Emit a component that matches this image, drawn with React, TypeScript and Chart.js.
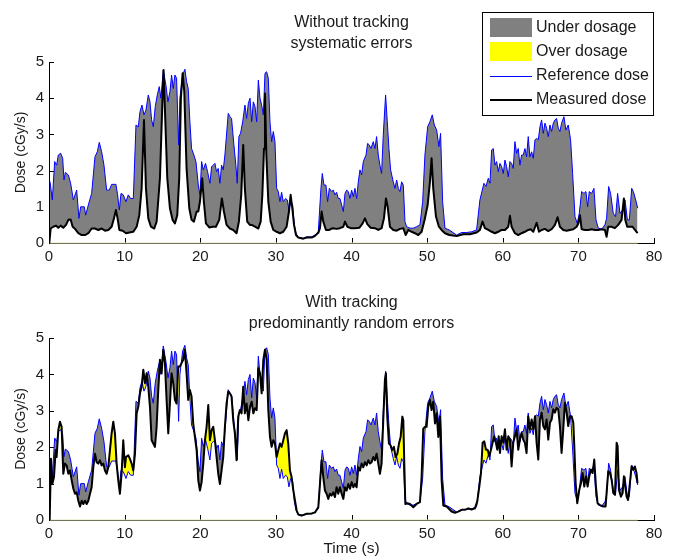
import React, { useEffect, useRef } from 'react';
import { Chart, registerables } from 'chart.js';

Chart.register(...registerables);

const FONT = '"Liberation Sans", Arial, Helvetica, sans-serif';

// Reference dose [time s, dose cGy/s] (same in both panels)
const referenceDose: number[][] = [
  [0.13,1.7],[0.44,1.19],[0.75,2.25],[1.01,2.15],[1.23,2.43],[1.54,2.48],[1.81,2.34],[1.98,1.74],[2.16,1.95],[2.56,1.88],
  [2.86,1.65],[3.22,1.19],[3.66,1.46],[3.96,0.68],[4.19,1.0],[4.67,1.0],[4.85,0.77],[5.2,1.05],[5.64,1.37],[6.08,2.38],
  [6.39,2.52],[6.65,2.78],[6.96,2.52],[7.27,2.15],[7.62,1.46],[7.97,1.46],[8.28,1.62],[8.85,1.62],[9.07,1.33],[9.3,0.91],
  [9.52,1.37],[9.82,1.33],[10.18,1.14],[10.48,1.33],[10.79,1.23],[11.15,1.23],[11.5,3.26],[11.81,3.21],[12.03,3.63],[12.29,3.81],
  [12.56,3.54],[12.82,3.67],[13.13,4.09],[13.35,3.9],[13.57,3.4],[13.79,3.21],[14.05,3.77],[14.32,4.09],[14.58,4.32],[14.8,4.0],
  [15.11,4.78],[15.46,4.36],[15.73,3.9],[15.99,4.18],[16.21,4.64],[16.43,4.27],[16.65,4.64],[16.87,4.55],[17.14,2.71],[17.31,4.0],
  [17.67,4.64],[17.97,4.8],[18.19,4.46],[18.41,4.27],[18.63,3.35],[18.85,2.61],[19.16,2.43],[19.43,2.25],[19.74,1.6],[19.96,1.33],
  [20.18,2.25],[20.4,2.02],[20.7,2.2],[20.97,1.97],[21.28,1.65],[21.5,2.11],[21.72,2.15],[21.94,2.2],[22.16,1.97],[22.38,2.06],
  [22.6,1.65],[22.82,2.15],[23.04,2.02],[23.26,2.43],[23.7,3.58],[23.92,3.49],[24.14,3.44],[24.45,2.71],[24.71,2.15],[24.89,1.65],
  [25.11,2.94],[25.33,3.03],[25.61,3.35],[25.91,3.81],[26.13,3.44],[26.36,3.86],[26.58,4.0],[26.8,3.35],[27.02,3.9],[27.24,3.77],
  [27.46,3.35],[27.68,4.5],[27.9,4.0],[28.12,3.81],[28.34,3.54],[28.56,4.69],[28.78,4.73],[29.0,4.55],[29.22,3.35],[29.44,2.8],
  [29.66,3.08],[29.88,2.8],[30.1,1.51],[30.32,1.42],[30.54,1.14],[30.76,1.4],[30.98,1.14],[31.29,1.23],[31.51,1.19],[31.73,0.91],
  [31.95,1.14],[32.22,1.05],[32.44,0.5],[32.66,0.27],[32.97,0.15],[33.63,0.13],[34.07,0.17],[34.73,0.17],[35.18,0.22],[35.61,0.31],
  [35.96,1.51],[36.14,1.92],[36.36,1.6],[36.62,1.6],[36.84,1.14],[37.07,1.51],[37.37,1.42],[37.59,1.46],[37.81,1.33],[38.03,1.4],
  [38.25,1.23],[38.47,1.23],[38.7,1.05],[38.92,0.87],[39.14,1.37],[39.36,1.46],[39.58,1.42],[39.8,1.23],[40.02,1.46],[40.24,1.28],
  [40.46,1.51],[40.68,1.23],[40.9,1.69],[41.12,2.02],[41.34,1.88],[41.56,2.25],[41.92,2.43],[42.13,2.75],[42.35,2.71],[42.57,2.61],
  [42.88,2.8],[43.1,2.61],[43.32,2.94],[43.54,2.43],[43.76,2.15],[43.98,1.92],[44.2,2.98],[44.51,4.09],[44.73,3.35],[44.95,2.61],
  [45.17,2.02],[45.52,1.69],[45.75,1.51],[45.97,1.74],[46.19,1.51],[46.41,1.42],[46.63,1.69],[46.85,1.6],[47.07,0.59],[47.29,0.45],
  [47.73,0.41],[48.17,0.41],[48.61,0.45],[49.05,0.5],[49.41,1.14],[49.71,2.43],[50.07,3.21],[50.37,3.35],[50.68,3.54],[50.95,3.26],
  [51.26,3.12],[51.56,2.66],[51.78,3.03],[52.05,1.14],[52.36,0.41],[52.93,0.36],[53.9,0.22],[54.56,0.29],[55.22,0.29],[55.88,0.31],
  [56.54,0.36],[56.98,1.19],[57.29,1.46],[57.51,1.65],[57.78,1.56],[58.09,1.79],[58.31,1.65],[58.53,2.57],[58.75,2.61],[58.97,2.15],
  [59.19,2.25],[59.41,1.97],[59.63,2.2],[59.85,2.11],[60.07,1.92],[60.29,2.29],[60.51,2.11],[60.73,1.83],[60.95,2.25],[61.17,2.2],
  [61.39,2.06],[61.61,2.8],[61.83,2.48],[62.05,2.61],[62.27,2.15],[62.49,2.43],[62.71,2.43],[62.93,2.61],[63.15,2.38],[63.37,2.94],
  [63.59,2.38],[63.82,2.52],[64.04,2.34],[64.26,2.85],[64.48,2.89],[64.7,2.85],[64.92,3.21],[65.14,3.4],[65.36,3.03],[65.58,3.31],
  [65.8,3.17],[66.02,2.94],[66.24,3.26],[66.46,3.08],[66.68,3.31],[66.9,3.4],[67.12,3.44],[67.34,3.17],[67.56,3.08],[67.78,3.31],
  [68.09,3.49],[68.35,3.12],[68.66,3.26],[68.97,2.85],[69.24,1.92],[69.55,0.73],[69.85,0.54],[70.12,0.82],[70.43,1.42],[70.74,1.37],
  [71.0,1.42],[71.22,1.0],[71.44,1.42],[71.75,1.37],[72.06,1.51],[72.33,0.64],[72.63,0.41],[73.07,0.38],[73.51,0.5],[73.73,0.68],
  [74.0,1.56],[74.26,1.37],[74.61,0.82],[74.92,0.73],[75.19,1.37],[75.5,0.82],[75.85,0.91],[76.17,1.19],[76.48,0.64],[76.74,0.64],
  [77.05,1.51],[77.27,1.42],[77.58,1.19],[77.85,0.96],
];

// Measured dose without tracking
const measuredNoTracking: number[][] = [
  [0.04,0.0],[0.22,0.4],[0.57,0.45],[0.93,0.48],[1.23,0.42],[1.54,0.48],[1.89,0.42],[2.25,0.5],[2.56,0.64],[2.86,0.65],
  [3.13,0.45],[3.44,0.39],[3.88,0.27],[4.32,0.22],[4.76,0.22],[5.2,0.27],[5.64,0.4],[6.08,0.4],[6.52,0.36],[6.96,0.4],
  [7.4,0.34],[7.84,0.36],[8.28,0.45],[8.59,0.68],[8.85,0.91],[9.07,0.68],[9.3,0.36],[9.74,0.34],[10.18,0.27],[10.62,0.29],
  [11.15,0.31],[11.59,0.45],[11.94,0.77],[12.25,1.51],[12.56,3.4],[12.82,1.51],[13.13,0.68],[13.48,0.45],[13.92,0.4],[14.23,0.59],
  [14.67,1.79],[14.98,3.81],[15.15,4.78],[15.37,3.44],[15.64,1.79],[15.99,0.96],[16.34,0.64],[16.65,0.54],[16.96,0.77],[17.22,1.79],
  [17.44,4.0],[17.67,4.69],[17.89,4.18],[18.19,2.06],[18.55,0.96],[18.85,0.64],[19.16,0.59],[19.52,0.87],[19.74,0.87],[19.96,1.14],
  [20.26,1.79],[20.48,1.14],[20.75,0.54],[21.19,0.43],[21.63,0.45],[22.07,0.45],[22.51,0.64],[22.86,1.23],[23.13,0.87],[23.48,0.5],
  [23.92,0.4],[24.36,0.36],[24.8,0.27],[25.11,0.59],[25.42,1.33],[25.68,2.71],[25.9,1.51],[26.21,0.59],[26.56,0.5],[26.8,0.5],
  [27.24,0.45],[27.68,0.4],[27.99,0.59],[28.21,1.33],[28.43,2.61],[28.56,4.13],[28.74,2.43],[29.0,1.14],[29.31,0.59],[29.66,0.36],
  [30.1,0.31],[30.54,0.27],[30.98,0.31],[31.42,0.45],[31.73,0.87],[31.95,1.33],[32.17,0.96],[32.4,0.5],[32.66,0.22],[32.97,0.15],
  [33.63,0.12],[34.07,0.15],[34.73,0.15],[35.18,0.2],[35.61,0.28],[35.83,0.41],[36.05,0.87],[36.27,0.59],[36.62,0.36],[37.07,0.36],
  [37.5,0.41],[38.03,0.39],[38.47,0.41],[38.92,0.45],[39.14,0.59],[39.45,0.45],[39.89,0.41],[40.46,0.41],[41.03,0.42],[41.47,0.54],
  [41.78,0.68],[42.09,0.52],[42.53,0.42],[43.1,0.41],[43.54,0.36],[43.98,0.41],[44.29,0.68],[44.56,1.23],[44.78,1.0],[45.08,0.45],
  [45.52,0.36],[45.97,0.34],[46.41,0.39],[46.85,0.41],[47.16,0.22],[47.51,0.36],[47.95,0.31],[48.39,0.27],[48.83,0.22],[49.27,0.31],
  [49.71,0.68],[50.07,1.05],[50.37,1.69],[50.59,2.34],[50.81,1.51],[51.17,0.73],[51.56,0.45],[51.91,0.36],[52.36,0.27],[52.93,0.22],
  [53.9,0.19],[54.78,0.24],[55.66,0.24],[56.54,0.29],[56.98,0.36],[57.33,0.59],[57.64,0.41],[58.09,0.36],[58.53,0.31],[58.97,0.27],
  [59.41,0.31],[59.85,0.36],[60.29,0.36],[60.73,0.45],[60.95,0.75],[61.17,0.45],[61.61,0.27],[62.05,0.22],[62.49,0.27],[62.93,0.31],
  [63.37,0.36],[63.68,0.38],[64.04,0.31],[64.48,0.56],[64.79,0.31],[65.14,0.36],[65.58,0.39],[66.02,0.33],[66.46,0.38],[66.9,0.5],
  [67.25,0.71],[67.56,0.45],[68.0,0.36],[68.45,0.34],[68.88,0.36],[69.33,0.38],[69.77,0.45],[69.99,0.54],[70.21,0.77],[70.43,0.38],
  [70.87,0.36],[71.31,0.36],[71.75,0.38],[72.19,0.36],[72.63,0.36],[73.07,0.38],[73.51,0.36],[73.73,0.17],[73.95,0.45],[74.39,0.45],
  [74.83,0.41],[75.27,0.5],[75.71,0.64],[76.02,1.23],[76.2,0.64],[76.46,0.45],[76.81,0.45],[77.17,0.45],[77.48,0.36],[77.83,0.27],
];

// Measured dose with tracking
const measuredWithTracking: number[][] = [
  [0.09,0.0],[0.26,1.68],[0.44,0.99],[0.66,1.18],[0.88,1.92],[1.01,1.73],[1.23,2.47],[1.45,2.7],[1.67,2.56],[1.89,1.27],
  [2.11,1.55],[2.33,1.5],[2.56,1.27],[2.78,1.36],[3.0,1.09],[3.22,0.86],[3.44,0.72],[3.66,0.76],[3.88,0.53],[4.1,0.37],
  [4.32,0.53],[4.54,0.44],[4.76,0.53],[4.98,0.44],[5.2,0.53],[5.42,0.72],[5.64,0.9],[5.86,1.45],[6.08,1.82],[6.3,1.59],
  [6.52,1.55],[6.74,1.64],[6.96,1.5],[7.18,1.55],[7.4,1.36],[7.62,1.27],[7.84,1.45],[8.06,1.92],[8.28,2.38],[8.5,2.7],
  [8.72,2.38],[8.94,1.55],[9.16,1.09],[9.38,0.72],[9.6,1.27],[9.82,2.19],[10.04,1.45],[10.18,1.73],[10.48,1.78],[10.7,1.68],
  [10.93,1.55],[11.15,1.36],[11.37,1.82],[11.59,2.93],[11.81,3.11],[12.03,3.48],[12.25,3.66],[12.47,4.13],[12.69,3.76],[12.91,4.03],
  [13.13,3.66],[13.35,3.11],[13.57,2.19],[13.79,2.1],[14.01,2.01],[14.23,2.56],[14.45,3.57],[14.67,4.4],[14.89,4.03],[15.11,4.68],
  [15.33,4.31],[15.55,3.3],[15.77,2.38],[15.99,3.2],[16.21,4.03],[16.43,3.76],[16.65,3.3],[16.87,3.2],[17.09,4.22],[17.31,4.22],
  [17.53,4.31],[17.75,4.4],[17.97,4.68],[18.19,4.03],[18.41,3.3],[18.63,3.57],[18.85,3.39],[19.07,2.65],[19.3,2.28],[19.52,1.92],
  [19.74,1.09],[19.96,0.81],[20.18,1.04],[20.4,1.55],[20.62,2.19],[20.84,2.56],[21.06,3.16],[21.28,2.19],[21.5,2.47],[21.72,2.56],
  [21.94,2.19],[22.16,1.73],[22.38,1.27],[22.6,0.99],[22.82,1.36],[23.04,1.73],[23.26,2.56],[23.48,3.2],[23.7,3.53],[23.92,3.48],
  [24.14,3.39],[24.36,2.74],[24.58,2.38],[24.8,1.64],[25.02,2.84],[25.24,3.02],[25.46,2.93],[25.68,3.66],[25.9,2.93],[26.13,3.2],
  [26.36,2.74],[26.58,3.11],[26.8,3.25],[27.02,2.93],[27.24,3.07],[27.46,3.02],[27.68,4.17],[27.9,4.03],[28.12,3.48],[28.34,4.4],
  [28.56,4.68],[28.78,4.4],[29.0,3.02],[29.22,2.28],[29.44,2.01],[29.66,2.19],[29.88,2.1],[30.1,1.73],[30.32,1.92],[30.54,2.1],
  [30.76,2.01],[30.98,2.19],[31.2,2.38],[31.42,2.47],[31.64,2.1],[31.86,1.36],[32.08,1.18],[32.31,0.81],[32.53,0.53],[32.75,0.26],
  [32.97,0.15],[33.41,0.12],[34.07,0.17],[34.73,0.18],[35.18,0.21],[35.61,0.35],[35.83,0.99],[36.05,1.64],[36.27,1.18],[36.49,0.81],
  [36.71,0.72],[36.93,0.58],[37.15,0.72],[37.37,0.67],[37.59,0.76],[37.81,0.63],[38.03,0.9],[38.25,0.72],[38.47,0.9],[38.7,0.72],
  [38.92,0.58],[39.14,0.9],[39.36,0.81],[39.58,0.99],[39.8,0.86],[40.02,1.04],[40.24,0.9],[40.46,0.99],[40.68,0.9],[40.9,1.45],
  [41.12,1.36],[41.34,1.55],[41.56,1.45],[41.78,1.59],[42.0,1.5],[42.22,1.64],[42.44,1.55],[42.66,1.59],[42.88,1.73],[43.1,1.64],
  [43.32,1.82],[43.54,1.55],[43.76,1.27],[43.98,1.55],[44.2,2.74],[44.42,3.85],[44.55,4.03],[44.73,2.84],[44.95,2.1],[45.17,2.05],
  [45.39,1.92],[45.61,2.01],[45.83,1.73],[46.06,1.82],[46.28,2.1],[46.5,2.28],[46.72,2.84],[46.85,2.74],[46.98,1.55],[47.12,0.44],
  [47.38,0.46],[47.73,0.44],[48.17,0.35],[48.61,0.44],[49.05,0.49],[49.27,1.18],[49.49,2.51],[49.71,2.56],[49.93,2.56],[50.15,3.11],
  [50.37,3.3],[50.59,3.02],[50.81,3.25],[51.04,2.65],[51.26,2.93],[51.48,2.28],[51.7,2.84],[51.92,1.09],[52.14,0.4],[52.58,0.37],
  [53.24,0.23],[53.68,0.2],[54.12,0.23],[54.56,0.28],[55.0,0.28],[55.44,0.32],[55.88,0.29],[56.32,0.32],[56.63,0.51],[56.9,0.92],
  [57.12,1.29],[57.34,2.12],[57.56,2.16],[57.78,1.93],[58.0,1.93],[58.22,1.75],[58.44,1.93],[58.66,2.12],[58.88,2.3],[59.1,2.12],
  [59.28,1.93],[59.46,2.3],[59.63,1.84],[59.85,2.3],[60.07,2.12],[60.29,2.49],[60.51,1.93],[60.73,2.3],[60.95,2.21],[61.17,1.47],
  [61.39,2.12],[61.61,2.3],[61.83,2.49],[62.05,1.93],[62.27,2.21],[62.49,2.39],[62.71,2.21],[62.93,2.12],[63.15,1.84],[63.37,2.85],
  [63.59,2.49],[63.82,2.76],[64.04,2.49],[64.26,2.85],[64.48,2.12],[64.7,1.66],[64.92,2.76],[65.14,2.95],[65.36,2.58],[65.58,2.49],
  [65.8,2.76],[66.02,2.21],[66.24,2.67],[66.46,2.76],[66.68,3.04],[66.9,2.95],[67.12,3.08],[67.34,3.04],[67.56,2.58],[67.78,1.84],
  [68.0,2.49],[68.22,3.22],[68.45,2.95],[68.66,2.58],[68.88,2.85],[69.11,2.85],[69.33,2.67],[69.46,2.03],[69.64,1.01],[69.85,0.46],
  [70.12,0.83],[70.34,1.01],[70.56,1.29],[70.78,0.92],[71.0,1.2],[71.22,0.92],[71.44,1.2],[71.66,1.38],[71.88,1.29],[72.1,1.66],
  [72.32,0.92],[72.54,0.46],[72.85,0.41],[73.29,0.37],[73.6,0.37],[73.73,0.74],[73.95,1.34],[74.18,1.29],[74.4,1.1],[74.62,0.74],
  [74.84,0.69],[75.06,2.12],[75.19,2.03],[75.36,0.83],[75.63,0.64],[75.85,0.74],[76.02,1.2],[76.2,0.92],[76.38,0.64],[76.57,0.55],
  [76.81,1.01],[77.03,1.47],[77.25,1.38],[77.47,1.47],[77.69,1.29],[77.82,1.01],
];

const xTickValues = [0, 10, 20, 30, 40, 50, 60, 70, 80];
const yTickValues = [0, 1, 2, 3, 4, 5];
const topTitle = ['Without tracking', 'systematic errors'];
const bottomTitle = ['With tracking', 'predominantly random errors'];
const legendLabels = ['Under dosage', 'Over dosage', 'Reference dose', 'Measured dose'];
const yAxisTitle = 'Dose (cGy/s)';
const xAxisTitle = 'Time (s)';

const GRAY = '#808080';
const YELLOW = '#ffff00';
const BLUE = '#0000ff';
const BLACK = '#000000';
const TEXT = '#1a1a1a';
const BASELINE = '#e6e2b4';

const toPoints = (arr: number[][]) => arr.map(([x, y]) => ({ x, y }));

function makeDecor(titleLines: string[], withLegend: boolean) {
  return {
    id: 'decor',
    beforeDatasetsDraw(chart: any) {
      const { ctx, chartArea, scales } = chart;
      ctx.save();
      ctx.strokeStyle = BLACK;
      ctx.lineWidth = 1;
      ctx.beginPath();
      xTickValues.forEach((v) => {
        const px = Math.round(scales.x.getPixelForValue(v)) + 0.5;
        ctx.moveTo(px, chartArea.bottom);
        ctx.lineTo(px, chartArea.bottom - 5);
      });
      yTickValues.forEach((v) => {
        const py = Math.round(scales.y.getPixelForValue(v)) + 0.5;
        ctx.moveTo(chartArea.left, py);
        ctx.lineTo(chartArea.left + 5, py);
      });
      ctx.stroke();
      ctx.restore();
    },
    afterDraw(chart: any) {
      const { ctx, chartArea } = chart;
      ctx.save();
      ctx.fillStyle = TEXT;
      ctx.font = `16px ${FONT}`;
      ctx.textAlign = 'center';
      ctx.textBaseline = 'middle';
      const cx = (chartArea.left + chartArea.right) / 2;
      titleLines.forEach((t, i) => ctx.fillText(t, cx, 23 + i * 20.5));
      if (withLegend) {
        const right = chartArea.right - 0.5;
        const left = right - 171;
        const top = 12.5;
        ctx.fillStyle = '#ffffff';
        ctx.fillRect(left, top, right - left, 103);
        ctx.strokeStyle = BLACK;
        ctx.lineWidth = 1;
        ctx.strokeRect(left, top, right - left, 103);
        const sx = left + 7.5;
        const sw = 42;
        const rows = [27.5, 51.5, 76, 100];
        ctx.fillStyle = GRAY;
        ctx.fillRect(sx, rows[0] - 9.5, sw, 19);
        ctx.fillStyle = YELLOW;
        ctx.fillRect(sx, rows[1] - 9.5, sw, 19);
        ctx.strokeStyle = BLUE;
        ctx.lineWidth = 1;
        ctx.beginPath();
        ctx.moveTo(sx, rows[2] + 0.5);
        ctx.lineTo(sx + sw, rows[2] + 0.5);
        ctx.stroke();
        ctx.strokeStyle = BLACK;
        ctx.lineWidth = 2;
        ctx.beginPath();
        ctx.moveTo(sx, rows[3]);
        ctx.lineTo(sx + sw, rows[3]);
        ctx.stroke();
        ctx.fillStyle = TEXT;
        ctx.textAlign = 'left';
        ctx.font = `16px ${FONT}`;
        legendLabels.forEach((l, i) => ctx.fillText(l, sx + sw + 4, rows[i]));
      }
      ctx.restore();
    },
  };
}

function makeConfig(measured: number[][], titleLines: string[], withLegend: boolean, canvasH: number, areaTop: number, areaBottom: number, showXTitle: boolean): any {
  return {
    type: 'line',
    data: {
      datasets: [
        {
          label: 'Reference dose',
          data: toPoints(referenceDose),
          borderColor: BLUE,
          borderWidth: 1,
          pointRadius: 0,
          tension: 0,
          fill: { target: 1, above: GRAY, below: YELLOW },
          order: 1,
        },
        {
          label: 'Measured dose',
          data: toPoints(measured),
          borderColor: BLACK,
          borderWidth: 2,
          pointRadius: 0,
          tension: 0,
          fill: false,
          order: 0,
          borderJoinStyle: 'round',
        },
        {
          label: 'baseline',
          data: [
            { x: referenceDose[0][0], y: 0 },
            { x: referenceDose[referenceDose.length - 1][0], y: 0 },
          ],
          borderColor: BASELINE,
          borderWidth: 1,
          pointRadius: 0,
          fill: false,
          order: 2,
          clip: false,
        },
      ],
    },
    options: {
      responsive: false,
      animation: false,
      events: [],
      layout: { padding: { left: 0, right: 20, top: areaTop, bottom: 0 } },
      plugins: {
        legend: { display: false },
        tooltip: { enabled: false },
        title: { display: false },
      },
      scales: {
        x: {
          type: 'linear',
          min: 0,
          max: 80,
          afterBuildTicks: (s: any) => {
            s.ticks = xTickValues.map((value) => ({ value }));
          },
          afterFit: (s: any) => {
            s.height = canvasH - areaBottom;
          },
          grid: { display: false, drawTicks: false },
          border: { display: true, color: BLACK, width: 1 },
          ticks: { color: TEXT, font: { family: FONT, size: 15 }, padding: 5, maxRotation: 0, autoSkip: false },
          title: { display: showXTitle, text: xAxisTitle, color: TEXT, font: { family: FONT, size: 15.5 }, padding: { top: 0, bottom: 0 } },
        },
        y: {
          type: 'linear',
          min: 0,
          max: 5,
          afterBuildTicks: (s: any) => {
            s.ticks = yTickValues.map((value) => ({ value }));
          },
          afterFit: (s: any) => {
            s.width = 49;
          },
          grid: { display: false, drawTicks: false },
          border: { display: true, color: BLACK, width: 1 },
          ticks: { color: TEXT, font: { family: FONT, size: 15 }, padding: 5 },
          title: { display: true, text: yAxisTitle, color: TEXT, font: { family: FONT, size: 14 }, padding: { top: 13, bottom: 0 } },
        },
      },
    },
    plugins: [makeDecor(titleLines, withLegend)],
  };
}

export default function App() {
  const topRef = useRef<HTMLCanvasElement | null>(null);
  const bottomRef = useRef<HTMLCanvasElement | null>(null);

  useEffect(() => {
    const charts: Chart[] = [];
    if (topRef.current) {
      charts.push(new Chart(topRef.current, makeConfig(measuredNoTracking, topTitle, true, 280, 62, 243, false)));
    }
    if (bottomRef.current) {
      charts.push(new Chart(bottomRef.current, makeConfig(measuredWithTracking, bottomTitle, false, 278, 58, 240, true)));
    }
    return () => charts.forEach((c) => c.destroy());
  }, []);

  return (
    <div style={{ position: 'fixed', left: 0, top: 0, width: 674, height: 558, background: '#ffffff', overflow: 'hidden' }}>
      <canvas ref={topRef} width={674} height={280} style={{ position: 'absolute', left: 0, top: 0, width: 674, height: 280 }} />
      <canvas ref={bottomRef} width={674} height={278} style={{ position: 'absolute', left: 0, top: 280, width: 674, height: 278 }} />
    </div>
  );
}
